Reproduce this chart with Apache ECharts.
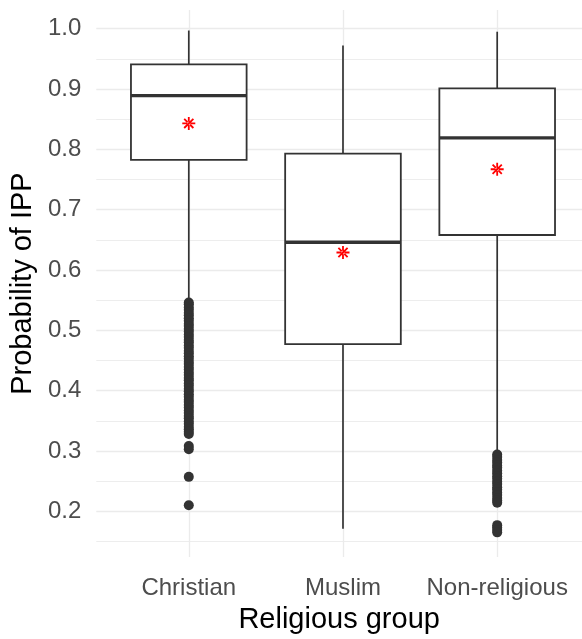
<!DOCTYPE html>
<html>
<head>
<meta charset="utf-8">
<script src="https://cdn.jsdelivr.net/npm/echarts@6/dist/echarts.min.js"></script>
<style>
html,body{margin:0;padding:0;background:#fff;}
#chart{width:582px;height:639px;}
</style>
</head>
<body>
<div id="chart"></div>
<script>
// ---- data ----
const categories = ['Christian', 'Muslim', 'Non-religious'];
// [lower whisker, Q1, median, Q3, upper whisker]
const christianStats    = [0.549, 0.7825, 0.889, 0.941, 0.997];
const muslimStats       = [0.171, 0.477, 0.646, 0.793, 0.972];
const nonReligiousStats = [0.298, 0.658, 0.819, 0.901, 0.995];
const meanValues = [0.843, 0.629, 0.767];
const christianOutliers = [0.546, 0.543, 0.538, 0.534, 0.529, 0.525, 0.520, 0.516, 0.511, 0.507,
  0.502, 0.498, 0.493, 0.489, 0.484, 0.480, 0.475, 0.471, 0.466, 0.462, 0.457, 0.453, 0.448,
  0.444, 0.439, 0.435, 0.430, 0.426, 0.421, 0.417, 0.412, 0.408, 0.403, 0.399, 0.394, 0.390,
  0.385, 0.381, 0.376, 0.372, 0.367, 0.363, 0.358, 0.354, 0.349, 0.345, 0.340, 0.336, 0.332,
  0.328, 0.308, 0.303, 0.257, 0.210];
const muslimOutliers = [];
const nonReligiousOutliers = [0.294, 0.290, 0.285, 0.281, 0.276, 0.272, 0.267, 0.263, 0.258,
  0.254, 0.249, 0.245, 0.240, 0.236, 0.231, 0.227, 0.222, 0.218, 0.214, 0.177, 0.173, 0.169, 0.165];
const yTicks = [0.2, 0.3, 0.4, 0.5, 0.6, 0.7, 0.8, 0.9, 1.0];
const yMinorTicks = [0.15, 0.25, 0.35, 0.45, 0.55, 0.65, 0.75, 0.85, 0.95];
const yRange = [0.124, 1.031];
const xRange = [0.4, 3.55];

// ---- build series data ----
const allStats = [christianStats, muslimStats, nonReligiousStats];
const allOutliers = [christianOutliers, muslimOutliers, nonReligiousOutliers];
const boxData = allStats.map((s, i) => [i + 1].concat(s));
const outlierData = [];
allOutliers.forEach((arr, i) => arr.forEach(v => outlierData.push([i + 1, v])));
const meanData = meanValues.map((v, i) => [i + 1, v]);

const FONT = "'Liberation Sans', Arial, sans-serif";
const BOX_W = 0.75;
const STROKE = '#333333';

const gridLines = []
  .concat(yMinorTicks.map(v => ({ yAxis: v, lineStyle: { width: 0.9 } })))
  .concat(yTicks.map(v => ({ yAxis: v, lineStyle: { width: 1.3 } })))
  .concat(categories.map((c, i) => ({ xAxis: i + 1, lineStyle: { width: 1.3 } })));

const asterisk = 'path://M-5,-0.7L5,-0.7L5,0.7L-5,0.7Z M-0.7,-5L0.7,-5L0.7,5L-0.7,5Z ' +
  'M-4.03,-3.04L3.04,4.03L4.03,3.04L-3.04,-4.03Z M3.04,-4.03L4.03,-3.04L-3.04,4.03L-4.03,3.04Z';

const chart = echarts.init(document.getElementById('chart'), null, { renderer: 'canvas' });
chart.setOption({
  animation: false,
  backgroundColor: '#ffffff',
  grid: { left: 95, top: 10, right: 0, height: 551.7, containLabel: false },
  xAxis: {
    type: 'value', min: xRange[0], max: xRange[1],
    axisLine: { show: false }, axisTick: { show: false }, splitLine: { show: false },
    axisLabel: {
      customValues: [1, 2, 3],
      formatter: v => categories[Math.round(v) - 1] || '',
      color: '#4D4D4D', fontSize: 24, fontFamily: FONT, margin: 19
    },
    name: 'Religious group', nameLocation: 'middle', nameGap: 46,
    nameTextStyle: { color: '#000', fontSize: 29, fontFamily: FONT }
  },
  yAxis: {
    type: 'value', min: yRange[0], max: yRange[1],
    axisLine: { show: false }, axisTick: { show: false }, splitLine: { show: false },
    axisLabel: {
      customValues: yTicks,
      formatter: v => v.toFixed(1),
      color: '#4D4D4D', fontSize: 24, fontFamily: FONT, margin: 15,
      padding: [7, 0, 0, 0]
    },
    name: 'Probability of IPP', nameLocation: 'middle', nameGap: 51,
    nameTextStyle: { color: '#000', fontSize: 29, fontFamily: FONT }
  },
  series: [
    {
      type: 'scatter', data: [], silent: true, z: 0,
      markLine: {
        silent: true, symbol: 'none', z: 0, animation: false,
        label: { show: false },
        lineStyle: { color: '#EBEBEB', type: 'solid' },
        data: gridLines
      }
    },
    {
      type: 'custom', z: 2,
      encode: { x: 0, y: [1, 2, 3, 4, 5] },
      data: boxData,
      renderItem: function (params, api) {
        const x = api.value(0);
        const lo = api.coord([x, api.value(1)]);
        const q1 = api.coord([x, api.value(2)]);
        const md = api.coord([x, api.value(3)]);
        const q3 = api.coord([x, api.value(4)]);
        const hi = api.coord([x, api.value(5)]);
        const w = api.size([BOX_W, 0])[0];
        const ls = { stroke: STROKE, lineWidth: 1.7 };
        return {
          type: 'group',
          children: [
            { type: 'line', shape: { x1: lo[0], y1: lo[1], x2: q1[0], y2: q1[1] }, style: ls },
            { type: 'line', shape: { x1: q3[0], y1: q3[1], x2: hi[0], y2: hi[1] }, style: ls },
            { type: 'rect', shape: { x: q3[0] - w / 2, y: q3[1], width: w, height: q1[1] - q3[1] },
              style: { fill: '#ffffff', stroke: STROKE, lineWidth: 1.8 } },
            { type: 'line', shape: { x1: md[0] - w / 2, y1: md[1], x2: md[0] + w / 2, y2: md[1] },
              style: { stroke: STROKE, lineWidth: 3.4 } }
          ]
        };
      }
    },
    {
      type: 'scatter', z: 3, data: outlierData, symbol: 'circle', symbolSize: 10,
      itemStyle: { color: STROKE, opacity: 1 }
    },
    {
      type: 'scatter', z: 4, data: meanData, symbol: asterisk, symbolSize: 13,
      itemStyle: { color: '#FF0000', opacity: 1 }
    }
  ]
});
</script>
</body>
</html>
